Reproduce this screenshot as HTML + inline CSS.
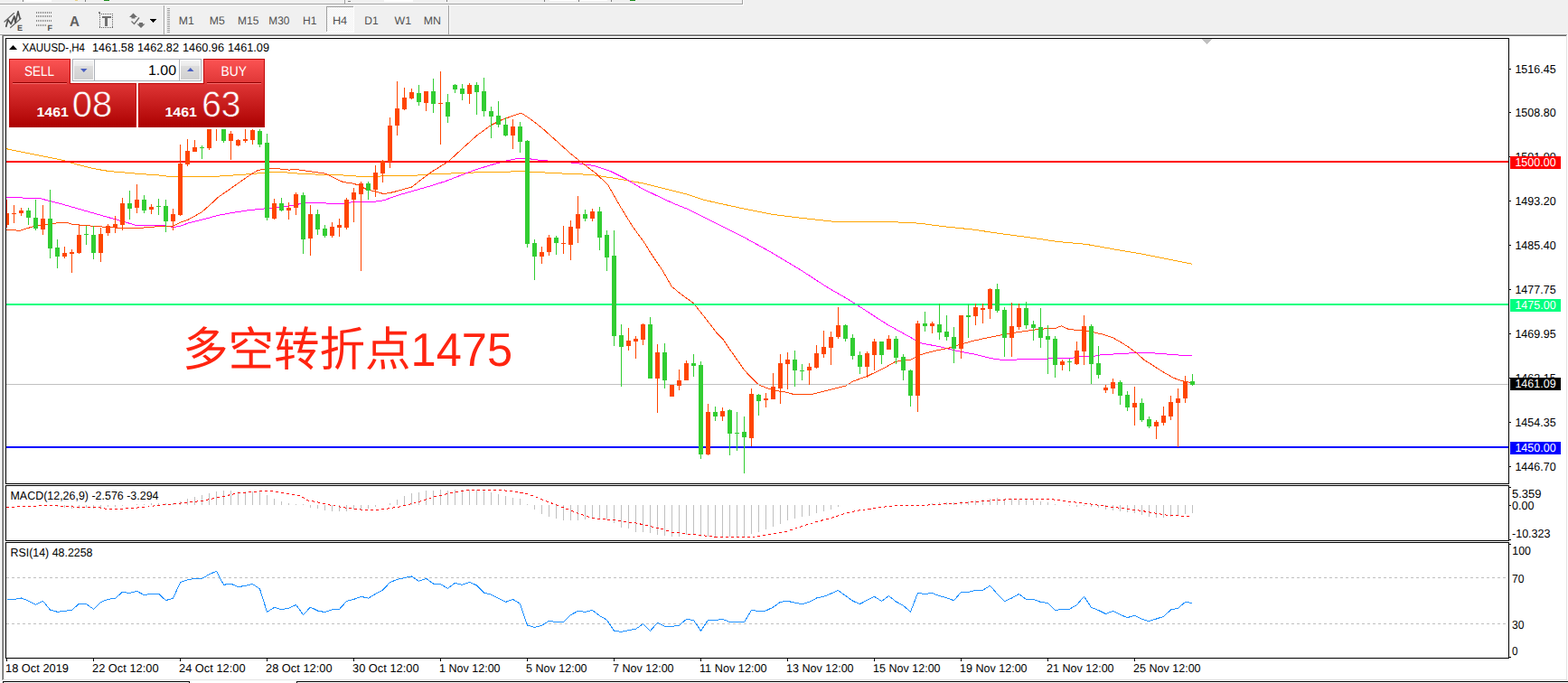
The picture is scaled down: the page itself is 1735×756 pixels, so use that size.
<!DOCTYPE html>
<html><head><meta charset="utf-8"><title>XAUUSD H4</title>
<style>
html,body{margin:0;padding:0;background:#f0f0f0;overflow:hidden}
body{width:1735px;height:756px;position:relative}
svg{position:absolute;left:0;top:0;display:block;font-family:"Liberation Sans",sans-serif;shape-rendering:crispEdges}
text{text-rendering:geometricPrecision;white-space:pre}
</style></head><body>
<svg width="1735" height="756" viewBox="0 0 1735 756">
<rect x="0" y="0" width="1735" height="756" fill="#f0f0f0" />
<rect x="0" y="4" width="822" height="1" fill="#a0a0a0" />
<rect x="0" y="5" width="823" height="1" fill="#ffffff" />
<rect x="821" y="0" width="1" height="5" fill="#a0a0a0" />
<rect x="822" y="0" width="1" height="6" fill="#ffffff" />
<rect x="25" y="0" width="32" height="2" fill="#ffffff" />
<rect x="25" y="0" width="1" height="2" fill="#808080" />
<rect x="94" y="0" width="1" height="2" fill="#808080" />
<rect x="115" y="0" width="6" height="1" fill="#1a8a1a" />
<rect x="83" y="0" width="3" height="1" fill="#e8d080" />
<rect x="381" y="0" width="1" height="4" fill="#a0a0a0" />
<rect x="385" y="1" width="3" height="1" fill="#808080" />
<rect x="425" y="0" width="32" height="2" fill="#ffffff" />
<rect x="494" y="0" width="1" height="2" fill="#808080" />
<rect x="602" y="0" width="1" height="2" fill="#808080" />
<rect x="608" y="0" width="30" height="1" fill="#ffffff" />
<rect x="640" y="0" width="1" height="2" fill="#808080" />
<rect x="642" y="0" width="30" height="1" fill="#ffffff" />
<rect x="676" y="0" width="1" height="2" fill="#808080" />
<rect x="697" y="0" width="6" height="1" fill="#1a8a1a" />
<rect x="0" y="37" width="1735" height="1" fill="#f8f8f8" />
<rect x="0" y="38" width="1734" height="1" fill="#a0a0a0" />
<rect x="3" y="39" width="1730" height="1" fill="#696969" />
<rect x="1" y="39" width="1" height="714" fill="#ffffff" />
<rect x="2" y="38" width="1" height="715" fill="#a0a0a0" />
<rect x="3" y="39" width="1" height="713" fill="#696969" />
<rect x="4" y="40" width="1729" height="712" fill="#ffffff" />
<rect x="1733" y="39" width="1" height="714" fill="#e3e3e3" />
<rect x="1734" y="38" width="1" height="716" fill="#ffffff" />
<rect x="3" y="752" width="1731" height="1" fill="#e3e3e3" />
<rect x="2" y="753" width="1733" height="1" fill="#ffffff" />
<rect x="0" y="754" width="1735" height="2" fill="#ffffff" />
<rect x="3" y="754" width="207" height="1" fill="#000" />
<rect x="3" y="754" width="1" height="2" fill="#000" />
<rect x="209" y="754" width="1" height="2" fill="#000" />
<rect x="328" y="754" width="1407" height="1" fill="#000" />
<rect x="328" y="754" width="1" height="2" fill="#000" />
<rect x="181" y="6" width="1" height="32" fill="#a0a0a0" />
<rect x="182" y="6" width="1" height="32" fill="#ffffff" />
<rect x="185" y="9" width="3" height="1" fill="#a0a0a0" />
<rect x="185" y="11" width="3" height="1" fill="#a0a0a0" />
<rect x="185" y="13" width="3" height="1" fill="#a0a0a0" />
<rect x="185" y="15" width="3" height="1" fill="#a0a0a0" />
<rect x="185" y="17" width="3" height="1" fill="#a0a0a0" />
<rect x="185" y="19" width="3" height="1" fill="#a0a0a0" />
<rect x="185" y="21" width="3" height="1" fill="#a0a0a0" />
<rect x="185" y="23" width="3" height="1" fill="#a0a0a0" />
<rect x="185" y="25" width="3" height="1" fill="#a0a0a0" />
<rect x="185" y="27" width="3" height="1" fill="#a0a0a0" />
<rect x="185" y="29" width="3" height="1" fill="#a0a0a0" />
<rect x="185" y="31" width="3" height="1" fill="#a0a0a0" />
<rect x="185" y="33" width="3" height="1" fill="#a0a0a0" />
<rect x="185" y="35" width="3" height="1" fill="#a0a0a0" />
<rect x="496" y="6" width="1" height="32" fill="#a0a0a0" />
<rect x="497" y="6" width="1" height="32" fill="#ffffff" />
<pattern id="ck" width="2" height="2" patternUnits="userSpaceOnUse"><rect width="2" height="2" fill="#f0f0f0"/><rect width="1" height="1" fill="#fff"/><rect x="1" y="1" width="1" height="1" fill="#fff"/></pattern>
<rect x="361" y="7" width="31" height="29" fill="url(#ck)" />
<rect x="361" y="7" width="31" height="1" fill="#a0a0a0" />
<rect x="361" y="7" width="1" height="29" fill="#a0a0a0" />
<rect x="361" y="35" width="31" height="1" fill="#ffffff" />
<rect x="391" y="7" width="1" height="29" fill="#ffffff" />
<text x="197.8" y="27" font-size="12.5" fill="#505050" textLength="17" lengthAdjust="spacingAndGlyphs" >M1</text>
<text x="231.7" y="27" font-size="12.5" fill="#505050" textLength="17" lengthAdjust="spacingAndGlyphs" >M5</text>
<text x="263.1" y="27" font-size="12.5" fill="#505050" textLength="23.3" lengthAdjust="spacingAndGlyphs" >M15</text>
<text x="297.3" y="27" font-size="12.5" fill="#505050" textLength="23" lengthAdjust="spacingAndGlyphs" >M30</text>
<text x="335.1" y="27" font-size="12.5" fill="#505050" textLength="15.4" lengthAdjust="spacingAndGlyphs" >H1</text>
<text x="367.9" y="27" font-size="12.5" fill="#505050" textLength="16.3" lengthAdjust="spacingAndGlyphs" >H4</text>
<text x="403.2" y="27" font-size="12.5" fill="#505050" textLength="15.4" lengthAdjust="spacingAndGlyphs" >D1</text>
<text x="436.5" y="27" font-size="12.5" fill="#505050" textLength="18.5" lengthAdjust="spacingAndGlyphs" >W1</text>
<text x="468.7" y="27" font-size="12.5" fill="#505050" textLength="19.2" lengthAdjust="spacingAndGlyphs" >MN</text>
<g fill="none" shape-rendering="geometricPrecision" stroke-linecap="round" stroke-linejoin="round">
<path d="M5,24 L15.5,14.6 M11.6,30.6 L23,20.4" stroke="#6a6a6a" stroke-width="1.3"/>
<path d="M6.8,29.3 L8.8,21.8 L12.2,26.6 L15.8,18 L17,25 L20,12.6 L22,20.4" stroke="#505050" stroke-width="1.7"/>
</g>
<text x="19" y="34" font-size="9" fill="#505050" font-weight="bold" >E</text>
<rect x="40" y="13" width="1" height="2" fill="#8c8c8c" />
<rect x="42" y="13" width="1" height="2" fill="#8c8c8c" />
<rect x="44" y="13" width="1" height="2" fill="#8c8c8c" />
<rect x="46" y="13" width="1" height="2" fill="#8c8c8c" />
<rect x="48" y="13" width="1" height="2" fill="#8c8c8c" />
<rect x="50" y="13" width="1" height="2" fill="#8c8c8c" />
<rect x="52" y="13" width="1" height="2" fill="#8c8c8c" />
<rect x="54" y="13" width="1" height="2" fill="#8c8c8c" />
<rect x="56" y="13" width="1" height="2" fill="#8c8c8c" />
<rect x="40" y="17" width="1" height="2" fill="#8c8c8c" />
<rect x="42" y="17" width="1" height="2" fill="#8c8c8c" />
<rect x="44" y="17" width="1" height="2" fill="#8c8c8c" />
<rect x="46" y="17" width="1" height="2" fill="#8c8c8c" />
<rect x="48" y="17" width="1" height="2" fill="#8c8c8c" />
<rect x="50" y="17" width="1" height="2" fill="#8c8c8c" />
<rect x="52" y="17" width="1" height="2" fill="#8c8c8c" />
<rect x="54" y="17" width="1" height="2" fill="#8c8c8c" />
<rect x="56" y="17" width="1" height="2" fill="#8c8c8c" />
<rect x="40" y="22" width="1" height="2" fill="#8c8c8c" />
<rect x="42" y="22" width="1" height="2" fill="#8c8c8c" />
<rect x="44" y="22" width="1" height="2" fill="#8c8c8c" />
<rect x="46" y="22" width="1" height="2" fill="#8c8c8c" />
<rect x="48" y="22" width="1" height="2" fill="#8c8c8c" />
<rect x="50" y="22" width="1" height="2" fill="#8c8c8c" />
<rect x="52" y="22" width="1" height="2" fill="#8c8c8c" />
<rect x="54" y="22" width="1" height="2" fill="#8c8c8c" />
<rect x="56" y="22" width="1" height="2" fill="#8c8c8c" />
<rect x="40" y="27" width="1" height="2" fill="#8c8c8c" />
<rect x="42" y="27" width="1" height="2" fill="#8c8c8c" />
<rect x="44" y="27" width="1" height="2" fill="#8c8c8c" />
<rect x="46" y="27" width="1" height="2" fill="#8c8c8c" />
<rect x="48" y="27" width="1" height="2" fill="#8c8c8c" />
<rect x="50" y="27" width="1" height="2" fill="#8c8c8c" />
<text x="52.5" y="34" font-size="9" fill="#505050" font-weight="bold" >F</text>
<text x="77" y="28.5" font-size="16" fill="#606060" textLength="11" lengthAdjust="spacingAndGlyphs" font-weight="bold" >A</text>
<rect x="110" y="15" width="1" height="1" fill="#606060" />
<rect x="110" y="30" width="1" height="1" fill="#606060" />
<rect x="112" y="15" width="1" height="1" fill="#606060" />
<rect x="112" y="30" width="1" height="1" fill="#606060" />
<rect x="114" y="15" width="1" height="1" fill="#606060" />
<rect x="114" y="30" width="1" height="1" fill="#606060" />
<rect x="116" y="15" width="1" height="1" fill="#606060" />
<rect x="116" y="30" width="1" height="1" fill="#606060" />
<rect x="118" y="15" width="1" height="1" fill="#606060" />
<rect x="118" y="30" width="1" height="1" fill="#606060" />
<rect x="120" y="15" width="1" height="1" fill="#606060" />
<rect x="120" y="30" width="1" height="1" fill="#606060" />
<rect x="122" y="15" width="1" height="1" fill="#606060" />
<rect x="122" y="30" width="1" height="1" fill="#606060" />
<rect x="124" y="15" width="1" height="1" fill="#606060" />
<rect x="124" y="30" width="1" height="1" fill="#606060" />
<rect x="110" y="17" width="1" height="1" fill="#606060" />
<rect x="124" y="17" width="1" height="1" fill="#606060" />
<rect x="110" y="19" width="1" height="1" fill="#606060" />
<rect x="124" y="19" width="1" height="1" fill="#606060" />
<rect x="110" y="21" width="1" height="1" fill="#606060" />
<rect x="124" y="21" width="1" height="1" fill="#606060" />
<rect x="110" y="23" width="1" height="1" fill="#606060" />
<rect x="124" y="23" width="1" height="1" fill="#606060" />
<rect x="110" y="25" width="1" height="1" fill="#606060" />
<rect x="124" y="25" width="1" height="1" fill="#606060" />
<rect x="110" y="27" width="1" height="1" fill="#606060" />
<rect x="124" y="27" width="1" height="1" fill="#606060" />
<rect x="110" y="29" width="1" height="1" fill="#606060" />
<rect x="124" y="29" width="1" height="1" fill="#606060" />
<rect x="109" y="13" width="2" height="2" fill="#808080" />
<rect x="113" y="18" width="10" height="2" fill="#707070" />
<rect x="116" y="20" width="3" height="9" fill="#707070" />
<g fill="#6e6e6e" shape-rendering="geometricPrecision"><path d="M147.5,14.5 L152,19 L149.5,19 L149.5,20.5 L145.5,20.5 L145.5,19 L143,19 Z"/><path d="M156,31 L160.5,26.5 L158,26.5 L158,25 L154,25 L154,26.5 L151.5,26.5 Z"/><path d="M145.5,23.5 L148.5,26.5 L154,19.5" fill="none" stroke="#6e6e6e" stroke-width="1.3"/></g>
<path d="M166,21 L173.5,21 L169.75,25 Z" fill="#000"/>
<rect x="6" y="42" width="1664" height="1" fill="#000" />
<rect x="6" y="535" width="1664" height="1" fill="#000" />
<rect x="6" y="42" width="1" height="494" fill="#000" />
<rect x="1669" y="42" width="1" height="494" fill="#000" />
<rect x="6" y="537" width="1664" height="1" fill="#000" />
<rect x="6" y="598" width="1664" height="1" fill="#000" />
<rect x="6" y="537" width="1" height="62" fill="#000" />
<rect x="1669" y="537" width="1" height="62" fill="#000" />
<rect x="6" y="600" width="1664" height="1" fill="#000" />
<rect x="6" y="728" width="1664" height="1" fill="#000" />
<rect x="6" y="600" width="1" height="129" fill="#000" />
<rect x="1669" y="600" width="1" height="129" fill="#000" />
<defs><clipPath id="cm"><rect x="7" y="43" width="1662" height="492"/></clipPath><clipPath id="c2"><rect x="7" y="538" width="1662" height="60"/></clipPath><clipPath id="c3"><rect x="7" y="601" width="1662" height="127"/></clipPath>
<linearGradient id="gs" x1="0" y1="0" x2="0" y2="1"><stop offset="0" stop-color="#fc5555"/><stop offset="1" stop-color="#e63a3a"/></linearGradient>
<linearGradient id="gb" x1="0" y1="0" x2="0" y2="1"><stop offset="0" stop-color="#e23333"/><stop offset="0.5" stop-color="#c81818"/><stop offset="1" stop-color="#ae0000"/></linearGradient>
<linearGradient id="gbtn" x1="0" y1="0" x2="0" y2="1"><stop offset="0" stop-color="#f3f3f3"/><stop offset="0.3" stop-color="#e9e9e9"/><stop offset="0.31" stop-color="#dcdcdc"/><stop offset="1" stop-color="#d0d0d0"/></linearGradient>
<linearGradient id="gp" gradientUnits="userSpaceOnUse" x1="0" y1="65" x2="0" y2="141"><stop offset="0" stop-color="#fc5454"/><stop offset="1" stop-color="#ac0000"/></linearGradient>
</defs>
<g clip-path="url(#cm)">
<polyline points="7.0,164.7 34.6,170.3 69.2,177.2 86.5,182.4 103.8,186.7 121.0,189.6 138.3,191.0 155.6,192.7 172.9,193.6 190.2,195.7 233.4,195.7 250.7,194.5 276.7,192.7 290.0,191.4 310.0,190.3 330.0,192.1 355.0,193.3 390.0,194.3 397.0,195.6 412.0,195.6 424.0,194.8 458.8,194.3 476.0,192.7 510.0,191.7 527.6,190.8 562.0,190.2 579.0,189.2 589.5,190.5 600.0,190.7 607.2,191.5 641.6,192.7 658.8,194.1 676.0,196.7 693.2,199.6 710.4,202.7 727.6,207.0 744.8,211.3 762.0,215.6 779.2,221.3 790.0,223.8 821.7,230.8 853.4,237.1 885.1,241.2 923.1,245.3 980.2,245.3 1018.2,247.2 1043.6,250.7 1075.3,253.9 1107.0,258.6 1138.7,262.8 1170.4,267.5 1202.1,270.4 1233.8,276.1 1265.5,281.5 1297.2,287.8 1318.8,292.2" fill="none" stroke="#ffa500" stroke-width="1" />
<polyline points="7.0,218.7 43.0,219.3 69.0,226.1 103.8,236.0 131.4,243.8 150.4,249.3 181.6,249.8 192.0,251.5 199.0,250.5 207.5,247.2 224.8,242.9 242.0,238.2 259.4,235.1 276.7,232.5 294.0,230.8 300.0,231.0 320.0,227.9 340.0,224.3 355.0,224.3 365.0,225.5 380.0,225.5 390.0,223.7 410.6,223.7 424.4,221.8 441.6,215.8 458.8,210.8 476.0,206.0 493.2,200.5 510.4,193.9 527.6,187.4 544.8,182.2 562.0,177.6 572.0,175.6 582.6,175.3 589.5,176.3 600.0,177.6 636.4,180.3 658.8,183.8 676.0,189.8 693.2,198.4 710.4,208.7 727.6,217.0 744.8,225.0 762.0,231.9 779.2,240.5 790.0,246.0 821.7,261.8 853.4,279.3 885.1,298.3 916.8,318.9 936.2,330.0 947.4,336.9 964.6,348.1 981.8,359.2 999.0,368.7 1012.8,376.4 1019.6,379.9 1042.0,384.2 1059.2,388.5 1077.2,391.9 1094.4,396.2 1108.2,398.4 1121.9,398.4 1128.8,397.5 1156.3,397.5 1163.2,396.5 1187.3,396.2 1194.2,394.4 1211.4,394.1 1220.0,392.4 1235.4,391.9 1251.6,390.8 1275.7,390.8 1292.9,392.2 1310.0,393.4 1318.7,393.4" fill="none" stroke="#ff00ff" stroke-width="1" />
<polyline points="7.0,254.2 22.5,255.3 34.6,251.3 57.0,247.6 69.0,246.2 75.0,246.5 79.5,248.3 96.8,249.8 131.4,252.3 155.6,252.3 173.0,250.8 192.0,250.0 199.0,246.3 207.5,243.5 223.0,235.0 235.0,224.3 242.0,217.8 250.0,212.4 259.4,205.7 276.7,193.6 285.3,188.5 295.0,186.9 310.0,187.0 320.0,188.1 327.0,187.4 340.0,189.3 360.0,192.1 367.0,195.7 380.0,201.7 390.0,202.9 397.0,205.1 407.0,210.3 416.0,212.0 424.4,214.6 434.7,212.8 446.8,209.4 455.4,207.2 465.7,199.1 476.0,191.3 496.6,178.4 510.4,165.5 527.6,150.0 543.0,138.8 555.0,132.8 568.9,127.6 575.4,125.4 579.0,126.4 589.5,133.6 600.0,141.9 631.3,170.0 641.6,178.3 658.8,191.5 672.6,204.4 686.3,228.5 700.0,250.8 713.8,269.8 719.9,280.0 732.8,298.9 743.1,317.0 753.4,325.6 767.2,335.4 779.2,350.5 794.3,370.0 800.0,375.5 807.0,385.9 824.0,410.2 838.8,425.5 849.3,429.9 864.2,433.5 870.0,434.1 878.6,436.6 897.5,436.6 914.7,432.3 935.4,427.2 944.0,422.0 959.4,416.5 976.6,408.3 990.4,400.5 1000.7,398.3 1007.6,398.3 1017.9,392.8 1031.7,389.0 1050.6,385.0 1064.4,380.7 1077.2,377.2 1094.4,373.5 1111.6,370.0 1128.8,367.3 1146.0,364.9 1159.8,363.5 1168.4,363.1 1174.4,360.9 1182.1,364.3 1189.0,365.2 1197.6,365.5 1209.6,367.8 1221.7,370.4 1232.0,374.1 1240.6,379.0 1249.2,384.5 1257.8,391.0 1266.4,398.7 1270.0,400.8 1286.0,411.1 1298.0,418.0 1306.6,421.4 1318.7,423.7" fill="none" stroke="#ff4500" stroke-width="1" />
<rect x="7" y="425" width="1662" height="1" fill="#c0c0c0" />
<rect x="7" y="178" width="1662" height="2" fill="#ff0000" />
<rect x="7" y="336" width="1662" height="2" fill="#00ff7f" />
<rect x="7" y="494" width="1662" height="2" fill="#0000ff" />
<rect x="7" y="221" width="1" height="31" fill="#ff4500" />
<rect x="5" y="236" width="5" height="13" fill="#ff4500" />
<rect x="15" y="227" width="1" height="20" fill="#ff4500" />
<rect x="13" y="236" width="5" height="1" fill="#ff4500" />
<rect x="23" y="230" width="1" height="9" fill="#ff4500" />
<rect x="21" y="233" width="5" height="3" fill="#ff4500" />
<rect x="31" y="230" width="1" height="19" fill="#32cd32" />
<rect x="29" y="233" width="5" height="8" fill="#32cd32" />
<rect x="39" y="221" width="1" height="34" fill="#32cd32" />
<rect x="37" y="241" width="5" height="12" fill="#32cd32" />
<rect x="47" y="227" width="1" height="33" fill="#ff4500" />
<rect x="45" y="242" width="5" height="12" fill="#ff4500" />
<rect x="55" y="210" width="1" height="76" fill="#32cd32" />
<rect x="53" y="242" width="5" height="33" fill="#32cd32" />
<rect x="63" y="265" width="1" height="32" fill="#32cd32" />
<rect x="61" y="274" width="5" height="10" fill="#32cd32" />
<rect x="71" y="273" width="1" height="13" fill="#ff4500" />
<rect x="69" y="280" width="5" height="4" fill="#ff4500" />
<rect x="79" y="276" width="1" height="26" fill="#ff4500" />
<rect x="77" y="279" width="5" height="2" fill="#ff4500" />
<rect x="87" y="249" width="1" height="32" fill="#ff4500" />
<rect x="85" y="260" width="5" height="20" fill="#ff4500" />
<rect x="95" y="250" width="1" height="21" fill="#32cd32" />
<rect x="93" y="259" width="5" height="1" fill="#32cd32" />
<rect x="103" y="250" width="1" height="37" fill="#32cd32" />
<rect x="101" y="260" width="5" height="20" fill="#32cd32" />
<rect x="111" y="252" width="1" height="38" fill="#ff4500" />
<rect x="109" y="259" width="5" height="21" fill="#ff4500" />
<rect x="119" y="248" width="1" height="13" fill="#ff4500" />
<rect x="117" y="250" width="5" height="8" fill="#ff4500" />
<rect x="127" y="239" width="1" height="19" fill="#ff4500" />
<rect x="125" y="248" width="5" height="4" fill="#ff4500" />
<rect x="135" y="219" width="1" height="36" fill="#ff4500" />
<rect x="133" y="225" width="5" height="24" fill="#ff4500" />
<rect x="143" y="211" width="1" height="32" fill="#32cd32" />
<rect x="141" y="225" width="5" height="6" fill="#32cd32" />
<rect x="151" y="204" width="1" height="32" fill="#ff4500" />
<rect x="149" y="221" width="5" height="9" fill="#ff4500" />
<rect x="159" y="216" width="1" height="20" fill="#32cd32" />
<rect x="157" y="221" width="5" height="12" fill="#32cd32" />
<rect x="167" y="226" width="1" height="11" fill="#ff4500" />
<rect x="165" y="229" width="5" height="3" fill="#ff4500" />
<rect x="175" y="220" width="1" height="18" fill="#32cd32" />
<rect x="173" y="228" width="5" height="1" fill="#32cd32" />
<rect x="183" y="221" width="1" height="36" fill="#32cd32" />
<rect x="181" y="228" width="5" height="17" fill="#32cd32" />
<rect x="191" y="231" width="1" height="24" fill="#ff4500" />
<rect x="189" y="237" width="5" height="8" fill="#ff4500" />
<rect x="199" y="160" width="1" height="79" fill="#ff4500" />
<rect x="197" y="181" width="5" height="57" fill="#ff4500" />
<rect x="207" y="154" width="1" height="30" fill="#ff4500" />
<rect x="205" y="167" width="5" height="15" fill="#ff4500" />
<rect x="215" y="155" width="1" height="13" fill="#ff4500" />
<rect x="213" y="163" width="5" height="5" fill="#ff4500" />
<rect x="223" y="161" width="1" height="15" fill="#32cd32" />
<rect x="221" y="163" width="5" height="1" fill="#32cd32" />
<rect x="231" y="100" width="1" height="66" fill="#ff4500" />
<rect x="229" y="100" width="5" height="64" fill="#ff4500" />
<rect x="239" y="100" width="1" height="56" fill="#ff4500" />
<rect x="247" y="100" width="1" height="58" fill="#32cd32" />
<rect x="245" y="100" width="5" height="56" fill="#32cd32" />
<rect x="255" y="145" width="1" height="32" fill="#ff4500" />
<rect x="253" y="148" width="5" height="8" fill="#ff4500" />
<rect x="263" y="154" width="1" height="8" fill="#ff4500" />
<rect x="261" y="155" width="5" height="6" fill="#ff4500" />
<rect x="271" y="100" width="1" height="58" fill="#ff4500" />
<rect x="269" y="154" width="5" height="2" fill="#ff4500" />
<rect x="279" y="100" width="1" height="60" fill="#ff4500" />
<rect x="277" y="144" width="5" height="11" fill="#ff4500" />
<rect x="287" y="100" width="1" height="63" fill="#32cd32" />
<rect x="285" y="145" width="5" height="15" fill="#32cd32" />
<rect x="295" y="148" width="1" height="96" fill="#32cd32" />
<rect x="293" y="158" width="5" height="83" fill="#32cd32" />
<rect x="303" y="220" width="1" height="23" fill="#ff4500" />
<rect x="301" y="225" width="5" height="17" fill="#ff4500" />
<rect x="311" y="219" width="1" height="15" fill="#32cd32" />
<rect x="309" y="225" width="5" height="8" fill="#32cd32" />
<rect x="319" y="224" width="1" height="19" fill="#ff4500" />
<rect x="317" y="230" width="5" height="3" fill="#ff4500" />
<rect x="327" y="213" width="1" height="25" fill="#ff4500" />
<rect x="325" y="215" width="5" height="15" fill="#ff4500" />
<rect x="335" y="213" width="1" height="68" fill="#32cd32" />
<rect x="333" y="216" width="5" height="49" fill="#32cd32" />
<rect x="343" y="227" width="1" height="56" fill="#ff4500" />
<rect x="341" y="237" width="5" height="27" fill="#ff4500" />
<rect x="351" y="232" width="1" height="28" fill="#32cd32" />
<rect x="349" y="237" width="5" height="17" fill="#32cd32" />
<rect x="359" y="249" width="1" height="14" fill="#32cd32" />
<rect x="357" y="253" width="5" height="8" fill="#32cd32" />
<rect x="367" y="246" width="1" height="17" fill="#ff4500" />
<rect x="365" y="251" width="5" height="10" fill="#ff4500" />
<rect x="375" y="242" width="1" height="20" fill="#ff4500" />
<rect x="373" y="249" width="5" height="3" fill="#ff4500" />
<rect x="383" y="219" width="1" height="35" fill="#ff4500" />
<rect x="381" y="221" width="5" height="31" fill="#ff4500" />
<rect x="391" y="208" width="1" height="38" fill="#ff4500" />
<rect x="389" y="213" width="5" height="8" fill="#ff4500" />
<rect x="399" y="201" width="1" height="99" fill="#ff4500" />
<rect x="397" y="203" width="5" height="12" fill="#ff4500" />
<rect x="407" y="201" width="1" height="20" fill="#32cd32" />
<rect x="405" y="203" width="5" height="8" fill="#32cd32" />
<rect x="415" y="183" width="1" height="35" fill="#ff4500" />
<rect x="413" y="191" width="5" height="19" fill="#ff4500" />
<rect x="423" y="177" width="1" height="25" fill="#ff4500" />
<rect x="421" y="178" width="5" height="14" fill="#ff4500" />
<rect x="431" y="130" width="1" height="56" fill="#ff4500" />
<rect x="429" y="139" width="5" height="40" fill="#ff4500" />
<rect x="439" y="90" width="1" height="60" fill="#ff4500" />
<rect x="437" y="120" width="5" height="19" fill="#ff4500" />
<rect x="447" y="97" width="1" height="25" fill="#ff4500" />
<rect x="445" y="108" width="5" height="13" fill="#ff4500" />
<rect x="455" y="98" width="1" height="12" fill="#ff4500" />
<rect x="453" y="102" width="5" height="7" fill="#ff4500" />
<rect x="463" y="94" width="1" height="23" fill="#32cd32" />
<rect x="461" y="103" width="5" height="10" fill="#32cd32" />
<rect x="471" y="101" width="1" height="22" fill="#ff4500" />
<rect x="469" y="101" width="5" height="13" fill="#ff4500" />
<rect x="479" y="87" width="1" height="38" fill="#32cd32" />
<rect x="477" y="101" width="5" height="14" fill="#32cd32" />
<rect x="487" y="79" width="1" height="81" fill="#ff4500" />
<rect x="485" y="114" width="5" height="1" fill="#ff4500" />
<rect x="495" y="104" width="1" height="32" fill="#32cd32" />
<rect x="493" y="113" width="5" height="16" fill="#32cd32" />
<rect x="503" y="93" width="1" height="10" fill="#32cd32" />
<rect x="501" y="94" width="5" height="5" fill="#32cd32" />
<rect x="511" y="93" width="1" height="18" fill="#32cd32" />
<rect x="509" y="98" width="5" height="6" fill="#32cd32" />
<rect x="519" y="92" width="1" height="23" fill="#ff4500" />
<rect x="517" y="94" width="5" height="10" fill="#ff4500" />
<rect x="527" y="91" width="1" height="36" fill="#32cd32" />
<rect x="525" y="94" width="5" height="8" fill="#32cd32" />
<rect x="535" y="86" width="1" height="43" fill="#32cd32" />
<rect x="533" y="101" width="5" height="22" fill="#32cd32" />
<rect x="543" y="118" width="1" height="35" fill="#32cd32" />
<rect x="541" y="123" width="5" height="6" fill="#32cd32" />
<rect x="551" y="112" width="1" height="29" fill="#32cd32" />
<rect x="549" y="128" width="5" height="10" fill="#32cd32" />
<rect x="559" y="130" width="1" height="21" fill="#32cd32" />
<rect x="557" y="138" width="5" height="12" fill="#32cd32" />
<rect x="567" y="132" width="1" height="33" fill="#ff4500" />
<rect x="565" y="140" width="5" height="10" fill="#ff4500" />
<rect x="575" y="135" width="1" height="34" fill="#32cd32" />
<rect x="573" y="140" width="5" height="17" fill="#32cd32" />
<rect x="583" y="155" width="1" height="119" fill="#32cd32" />
<rect x="581" y="156" width="5" height="114" fill="#32cd32" />
<rect x="591" y="265" width="1" height="45" fill="#32cd32" />
<rect x="589" y="269" width="5" height="15" fill="#32cd32" />
<rect x="599" y="273" width="1" height="19" fill="#ff4500" />
<rect x="597" y="279" width="5" height="5" fill="#ff4500" />
<rect x="607" y="260" width="1" height="23" fill="#ff4500" />
<rect x="605" y="263" width="5" height="16" fill="#ff4500" />
<rect x="615" y="261" width="1" height="21" fill="#32cd32" />
<rect x="613" y="263" width="5" height="6" fill="#32cd32" />
<rect x="623" y="250" width="1" height="31" fill="#ff4500" />
<rect x="621" y="269" width="5" height="1" fill="#ff4500" />
<rect x="631" y="244" width="1" height="44" fill="#ff4500" />
<rect x="629" y="251" width="5" height="20" fill="#ff4500" />
<rect x="639" y="217" width="1" height="52" fill="#ff4500" />
<rect x="637" y="237" width="5" height="16" fill="#ff4500" />
<rect x="647" y="232" width="1" height="13" fill="#32cd32" />
<rect x="645" y="237" width="5" height="5" fill="#32cd32" />
<rect x="655" y="231" width="1" height="14" fill="#ff4500" />
<rect x="653" y="234" width="5" height="8" fill="#ff4500" />
<rect x="663" y="229" width="1" height="48" fill="#32cd32" />
<rect x="661" y="234" width="5" height="29" fill="#32cd32" />
<rect x="671" y="255" width="1" height="45" fill="#32cd32" />
<rect x="669" y="260" width="5" height="25" fill="#32cd32" />
<rect x="679" y="255" width="1" height="128" fill="#32cd32" />
<rect x="677" y="283" width="5" height="89" fill="#32cd32" />
<rect x="687" y="359" width="1" height="69" fill="#32cd32" />
<rect x="685" y="371" width="5" height="13" fill="#32cd32" />
<rect x="695" y="363" width="1" height="25" fill="#ff4500" />
<rect x="693" y="377" width="5" height="6" fill="#ff4500" />
<rect x="703" y="372" width="1" height="25" fill="#ff4500" />
<rect x="701" y="375" width="5" height="3" fill="#ff4500" />
<rect x="711" y="358" width="1" height="24" fill="#ff4500" />
<rect x="709" y="359" width="5" height="17" fill="#ff4500" />
<rect x="719" y="351" width="1" height="68" fill="#32cd32" />
<rect x="717" y="359" width="5" height="60" fill="#32cd32" />
<rect x="727" y="381" width="1" height="76" fill="#ff4500" />
<rect x="725" y="390" width="5" height="29" fill="#ff4500" />
<rect x="735" y="380" width="1" height="50" fill="#32cd32" />
<rect x="733" y="390" width="5" height="31" fill="#32cd32" />
<rect x="743" y="426" width="1" height="13" fill="#ff4500" />
<rect x="741" y="426" width="5" height="13" fill="#ff4500" />
<rect x="751" y="409" width="1" height="23" fill="#ff4500" />
<rect x="749" y="421" width="5" height="6" fill="#ff4500" />
<rect x="759" y="399" width="1" height="22" fill="#ff4500" />
<rect x="757" y="402" width="5" height="19" fill="#ff4500" />
<rect x="767" y="392" width="1" height="25" fill="#32cd32" />
<rect x="765" y="402" width="5" height="3" fill="#32cd32" />
<rect x="775" y="400" width="1" height="108" fill="#32cd32" />
<rect x="773" y="404" width="5" height="99" fill="#32cd32" />
<rect x="783" y="447" width="1" height="57" fill="#ff4500" />
<rect x="781" y="456" width="5" height="47" fill="#ff4500" />
<rect x="791" y="450" width="1" height="16" fill="#32cd32" />
<rect x="789" y="456" width="5" height="5" fill="#32cd32" />
<rect x="799" y="451" width="1" height="15" fill="#ff4500" />
<rect x="797" y="455" width="5" height="6" fill="#ff4500" />
<rect x="807" y="453" width="1" height="51" fill="#32cd32" />
<rect x="805" y="454" width="5" height="26" fill="#32cd32" />
<rect x="815" y="456" width="1" height="43" fill="#32cd32" />
<rect x="813" y="479" width="5" height="1" fill="#32cd32" />
<rect x="823" y="461" width="1" height="63" fill="#32cd32" />
<rect x="821" y="478" width="5" height="6" fill="#32cd32" />
<rect x="831" y="430" width="1" height="64" fill="#ff4500" />
<rect x="829" y="436" width="5" height="49" fill="#ff4500" />
<rect x="839" y="436" width="1" height="24" fill="#32cd32" />
<rect x="837" y="437" width="5" height="7" fill="#32cd32" />
<rect x="847" y="435" width="1" height="16" fill="#ff4500" />
<rect x="845" y="441" width="5" height="2" fill="#ff4500" />
<rect x="855" y="413" width="1" height="29" fill="#ff4500" />
<rect x="853" y="428" width="5" height="14" fill="#ff4500" />
<rect x="863" y="392" width="1" height="55" fill="#ff4500" />
<rect x="861" y="402" width="5" height="28" fill="#ff4500" />
<rect x="871" y="390" width="1" height="41" fill="#ff4500" />
<rect x="869" y="398" width="5" height="5" fill="#ff4500" />
<rect x="879" y="388" width="1" height="40" fill="#32cd32" />
<rect x="877" y="398" width="5" height="12" fill="#32cd32" />
<rect x="887" y="403" width="1" height="18" fill="#32cd32" />
<rect x="885" y="410" width="5" height="1" fill="#32cd32" />
<rect x="895" y="402" width="1" height="24" fill="#ff4500" />
<rect x="893" y="406" width="5" height="4" fill="#ff4500" />
<rect x="903" y="382" width="1" height="26" fill="#ff4500" />
<rect x="901" y="391" width="5" height="16" fill="#ff4500" />
<rect x="911" y="366" width="1" height="30" fill="#ff4500" />
<rect x="909" y="384" width="5" height="8" fill="#ff4500" />
<rect x="919" y="367" width="1" height="37" fill="#ff4500" />
<rect x="917" y="373" width="5" height="12" fill="#ff4500" />
<rect x="927" y="340" width="1" height="35" fill="#ff4500" />
<rect x="925" y="360" width="5" height="13" fill="#ff4500" />
<rect x="935" y="359" width="1" height="19" fill="#32cd32" />
<rect x="933" y="360" width="5" height="15" fill="#32cd32" />
<rect x="943" y="370" width="1" height="28" fill="#32cd32" />
<rect x="941" y="374" width="5" height="20" fill="#32cd32" />
<rect x="951" y="389" width="1" height="25" fill="#32cd32" />
<rect x="949" y="393" width="5" height="13" fill="#32cd32" />
<rect x="959" y="389" width="1" height="29" fill="#ff4500" />
<rect x="957" y="391" width="5" height="15" fill="#ff4500" />
<rect x="967" y="375" width="1" height="35" fill="#ff4500" />
<rect x="965" y="378" width="5" height="15" fill="#ff4500" />
<rect x="975" y="378" width="1" height="25" fill="#32cd32" />
<rect x="973" y="378" width="5" height="15" fill="#32cd32" />
<rect x="983" y="371" width="1" height="16" fill="#ff4500" />
<rect x="981" y="375" width="5" height="12" fill="#ff4500" />
<rect x="991" y="372" width="1" height="31" fill="#32cd32" />
<rect x="989" y="375" width="5" height="21" fill="#32cd32" />
<rect x="999" y="392" width="1" height="29" fill="#32cd32" />
<rect x="997" y="395" width="5" height="15" fill="#32cd32" />
<rect x="1007" y="409" width="1" height="41" fill="#32cd32" />
<rect x="1005" y="410" width="5" height="28" fill="#32cd32" />
<rect x="1015" y="355" width="1" height="101" fill="#ff4500" />
<rect x="1013" y="358" width="5" height="80" fill="#ff4500" />
<rect x="1023" y="345" width="1" height="22" fill="#32cd32" />
<rect x="1021" y="358" width="5" height="3" fill="#32cd32" />
<rect x="1031" y="356" width="1" height="13" fill="#ff4500" />
<rect x="1029" y="358" width="5" height="3" fill="#ff4500" />
<rect x="1039" y="336" width="1" height="40" fill="#32cd32" />
<rect x="1037" y="359" width="5" height="9" fill="#32cd32" />
<rect x="1047" y="349" width="1" height="28" fill="#32cd32" />
<rect x="1045" y="367" width="5" height="6" fill="#32cd32" />
<rect x="1055" y="362" width="1" height="40" fill="#32cd32" />
<rect x="1053" y="373" width="5" height="13" fill="#32cd32" />
<rect x="1063" y="349" width="1" height="48" fill="#ff4500" />
<rect x="1061" y="349" width="5" height="37" fill="#ff4500" />
<rect x="1071" y="337" width="1" height="37" fill="#32cd32" />
<rect x="1069" y="349" width="5" height="2" fill="#32cd32" />
<rect x="1079" y="336" width="1" height="24" fill="#ff4500" />
<rect x="1077" y="340" width="5" height="10" fill="#ff4500" />
<rect x="1087" y="336" width="1" height="22" fill="#ff4500" />
<rect x="1085" y="341" width="5" height="2" fill="#ff4500" />
<rect x="1095" y="319" width="1" height="34" fill="#ff4500" />
<rect x="1093" y="320" width="5" height="22" fill="#ff4500" />
<rect x="1103" y="314" width="1" height="32" fill="#32cd32" />
<rect x="1101" y="320" width="5" height="24" fill="#32cd32" />
<rect x="1111" y="340" width="1" height="55" fill="#32cd32" />
<rect x="1109" y="343" width="5" height="31" fill="#32cd32" />
<rect x="1119" y="335" width="1" height="60" fill="#ff4500" />
<rect x="1117" y="361" width="5" height="13" fill="#ff4500" />
<rect x="1127" y="336" width="1" height="29" fill="#ff4500" />
<rect x="1125" y="341" width="5" height="21" fill="#ff4500" />
<rect x="1135" y="334" width="1" height="30" fill="#32cd32" />
<rect x="1133" y="341" width="5" height="19" fill="#32cd32" />
<rect x="1143" y="355" width="1" height="22" fill="#32cd32" />
<rect x="1141" y="359" width="5" height="4" fill="#32cd32" />
<rect x="1151" y="341" width="1" height="44" fill="#32cd32" />
<rect x="1149" y="362" width="5" height="12" fill="#32cd32" />
<rect x="1159" y="360" width="1" height="54" fill="#32cd32" />
<rect x="1157" y="372" width="5" height="4" fill="#32cd32" />
<rect x="1167" y="372" width="1" height="46" fill="#32cd32" />
<rect x="1165" y="375" width="5" height="29" fill="#32cd32" />
<rect x="1175" y="398" width="1" height="12" fill="#ff4500" />
<rect x="1173" y="400" width="5" height="4" fill="#ff4500" />
<rect x="1183" y="397" width="1" height="14" fill="#32cd32" />
<rect x="1181" y="400" width="5" height="1" fill="#32cd32" />
<rect x="1191" y="378" width="1" height="26" fill="#ff4500" />
<rect x="1189" y="388" width="5" height="15" fill="#ff4500" />
<rect x="1199" y="349" width="1" height="55" fill="#ff4500" />
<rect x="1197" y="361" width="5" height="28" fill="#ff4500" />
<rect x="1207" y="359" width="1" height="66" fill="#32cd32" />
<rect x="1205" y="361" width="5" height="42" fill="#32cd32" />
<rect x="1215" y="383" width="1" height="36" fill="#32cd32" />
<rect x="1213" y="402" width="5" height="13" fill="#32cd32" />
<rect x="1223" y="426" width="1" height="9" fill="#ff4500" />
<rect x="1221" y="429" width="5" height="3" fill="#ff4500" />
<rect x="1231" y="419" width="1" height="17" fill="#ff4500" />
<rect x="1229" y="423" width="5" height="7" fill="#ff4500" />
<rect x="1239" y="421" width="1" height="27" fill="#32cd32" />
<rect x="1237" y="423" width="5" height="15" fill="#32cd32" />
<rect x="1247" y="433" width="1" height="22" fill="#32cd32" />
<rect x="1245" y="437" width="5" height="14" fill="#32cd32" />
<rect x="1255" y="428" width="1" height="43" fill="#ff4500" />
<rect x="1253" y="446" width="5" height="5" fill="#ff4500" />
<rect x="1263" y="441" width="1" height="26" fill="#32cd32" />
<rect x="1261" y="446" width="5" height="19" fill="#32cd32" />
<rect x="1271" y="461" width="1" height="13" fill="#32cd32" />
<rect x="1269" y="464" width="5" height="8" fill="#32cd32" />
<rect x="1279" y="465" width="1" height="21" fill="#ff4500" />
<rect x="1277" y="467" width="5" height="5" fill="#ff4500" />
<rect x="1287" y="450" width="1" height="21" fill="#ff4500" />
<rect x="1285" y="460" width="5" height="8" fill="#ff4500" />
<rect x="1295" y="438" width="1" height="27" fill="#ff4500" />
<rect x="1293" y="445" width="5" height="16" fill="#ff4500" />
<rect x="1303" y="430" width="1" height="65" fill="#ff4500" />
<rect x="1301" y="441" width="5" height="5" fill="#ff4500" />
<rect x="1311" y="416" width="1" height="30" fill="#ff4500" />
<rect x="1309" y="422" width="5" height="19" fill="#ff4500" />
<rect x="1319" y="414" width="1" height="13" fill="#32cd32" />
<rect x="1317" y="422" width="5" height="4" fill="#32cd32" />
<path d="M1329,43 L1341,43 L1335,49 Z" fill="#c0c0c0"/>
</g>
<rect x="7" y="43" width="290" height="100" fill="#ffffff" />
<path d="M10,55 L19,55 L14.5,50 Z" fill="#000" shape-rendering="geometricPrecision"/>
<text x="24.5" y="57" font-size="13" fill="#000" textLength="69.5" lengthAdjust="spacingAndGlyphs" >XAUUSD-,H4</text>
<text x="102" y="57" font-size="13" fill="#000" textLength="46" lengthAdjust="spacingAndGlyphs" >1461.58</text>
<text x="152" y="57" font-size="13" fill="#000" textLength="46" lengthAdjust="spacingAndGlyphs" >1462.82</text>
<text x="202" y="57" font-size="13" fill="#000" textLength="46" lengthAdjust="spacingAndGlyphs" >1460.96</text>
<text x="252" y="57" font-size="13" fill="#000" textLength="46" lengthAdjust="spacingAndGlyphs" >1461.09</text>
<path d="M10,65 H78 V92 H151 V141 H10 Z" fill="url(#gp)"/>
<path d="M225,65 H293 V141 H153 V92 H225 Z" fill="url(#gp)"/>
<rect x="10" y="65" width="68" height="1" fill="#c00808" />
<rect x="10" y="65" width="1" height="76" fill="#c00808" />
<rect x="77" y="65" width="1" height="28" fill="#c00808" />
<rect x="77" y="92" width="74" height="1" fill="#c00808" />
<rect x="150" y="92" width="1" height="49" fill="#c41010" />
<rect x="225" y="65" width="68" height="1" fill="#c00808" />
<rect x="225" y="65" width="1" height="28" fill="#c00808" />
<rect x="292" y="65" width="1" height="76" fill="#c00808" />
<rect x="153" y="92" width="73" height="1" fill="#c00808" />
<rect x="153" y="92" width="1" height="49" fill="#c00808" />
<rect x="14" y="91" width="60" height="1" fill="#8e0000" />
<rect x="14" y="92" width="60" height="1" fill="#fa6c6c" />
<rect x="229" y="91" width="60" height="1" fill="#8e0000" />
<rect x="229" y="92" width="60" height="1" fill="#fa6c6c" />
<text x="27" y="84" font-size="15.4" fill="#fff" textLength="33" lengthAdjust="spacingAndGlyphs" >SELL</text>
<text x="244.5" y="84" font-size="15.4" fill="#fff" textLength="28.5" lengthAdjust="spacingAndGlyphs" >BUY</text>
<rect x="80" y="65" width="142" height="24" fill="#ffffff" stroke="#acb0b8" stroke-width="1" transform="translate(0.5,0.5)"/>
<rect x="82" y="67" width="21" height="21" fill="url(#gbtn)" />
<rect x="104" y="66" width="1" height="23" fill="#acb0b8" />
<rect x="200" y="67" width="21" height="21" fill="url(#gbtn)" />
<rect x="198" y="66" width="1" height="23" fill="#acb0b8" />
<path d="M89,76 L96.5,76 L92.75,80 Z" fill="#4a5fc0" shape-rendering="geometricPrecision"/>
<path d="M207,79 L214.5,79 L210.75,75 Z" fill="#4a5fc0" shape-rendering="geometricPrecision"/>
<text x="164" y="83" font-size="15.5" fill="#000" textLength="31" lengthAdjust="spacingAndGlyphs" >1.00</text>
<text x="40.5" y="129.3" font-size="14.5" fill="#fff" textLength="35.5" lengthAdjust="spacingAndGlyphs" font-weight="bold" >1461</text>
<text x="79.7" y="128.9" font-size="39.8" fill="#fff" textLength="44.4" lengthAdjust="spacingAndGlyphs" stroke="url(#gp)" stroke-width="0.55">08</text>
<text x="182.5" y="129.3" font-size="14.5" fill="#fff" textLength="35.5" lengthAdjust="spacingAndGlyphs" font-weight="bold" >1461</text>
<text x="223.2" y="128.9" font-size="39.8" fill="#fff" textLength="43.2" lengthAdjust="spacingAndGlyphs" stroke="url(#gp)" stroke-width="0.55">63</text>
<text x="202" y="405" font-size="52" fill="#ff2410" textLength="365" lengthAdjust="spacingAndGlyphs" style="font-family:'Liberation Sans','Noto Sans CJK SC',sans-serif">多空转折点1475</text>
<rect x="1670" y="76" width="2" height="1" fill="#000" />
<text x="1676.4" y="81" font-size="13" fill="#000" textLength="45.2" lengthAdjust="spacingAndGlyphs" >1516.45</text>
<rect x="1670" y="124" width="2" height="1" fill="#000" />
<text x="1676.4" y="129" font-size="13" fill="#000" textLength="45.2" lengthAdjust="spacingAndGlyphs" >1508.80</text>
<rect x="1670" y="173" width="2" height="1" fill="#000" />
<text x="1676.4" y="178" font-size="13" fill="#000" textLength="45.2" lengthAdjust="spacingAndGlyphs" >1501.00</text>
<rect x="1670" y="222" width="2" height="1" fill="#000" />
<text x="1676.4" y="227" font-size="13" fill="#000" textLength="45.2" lengthAdjust="spacingAndGlyphs" >1493.20</text>
<rect x="1670" y="271" width="2" height="1" fill="#000" />
<text x="1676.4" y="276" font-size="13" fill="#000" textLength="45.2" lengthAdjust="spacingAndGlyphs" >1485.40</text>
<rect x="1670" y="320" width="2" height="1" fill="#000" />
<text x="1676.4" y="325" font-size="13" fill="#000" textLength="45.2" lengthAdjust="spacingAndGlyphs" >1477.75</text>
<rect x="1670" y="369" width="2" height="1" fill="#000" />
<text x="1676.4" y="374" font-size="13" fill="#000" textLength="45.2" lengthAdjust="spacingAndGlyphs" >1469.95</text>
<rect x="1670" y="418" width="2" height="1" fill="#000" />
<text x="1676.4" y="423" font-size="13" fill="#000" textLength="45.2" lengthAdjust="spacingAndGlyphs" >1462.15</text>
<rect x="1670" y="467" width="2" height="1" fill="#000" />
<text x="1676.4" y="472" font-size="13" fill="#000" textLength="45.2" lengthAdjust="spacingAndGlyphs" >1454.35</text>
<rect x="1670" y="516" width="2" height="1" fill="#000" />
<text x="1676.4" y="521" font-size="13" fill="#000" textLength="45.2" lengthAdjust="spacingAndGlyphs" >1446.70</text>
<rect x="1671" y="173" width="56" height="14" fill="#ff0000" />
<text x="1676.4" y="184.3" font-size="13" fill="#fff" textLength="45.2" lengthAdjust="spacingAndGlyphs" >1500.00</text>
<rect x="1671" y="331" width="56" height="14" fill="#00ff7f" />
<text x="1676.4" y="342.3" font-size="13" fill="#fff" textLength="45.2" lengthAdjust="spacingAndGlyphs" >1475.00</text>
<rect x="1671" y="418" width="56" height="14" fill="#000000" />
<text x="1676.4" y="429.3" font-size="13" fill="#fff" textLength="45.2" lengthAdjust="spacingAndGlyphs" >1461.09</text>
<rect x="1671" y="489" width="56" height="14" fill="#0000ff" />
<text x="1676.4" y="500.3" font-size="13" fill="#fff" textLength="45.2" lengthAdjust="spacingAndGlyphs" >1450.00</text>
<g clip-path="url(#c2)">
<rect x="63" y="559" width="1" height="2" fill="#c0c0c0" />
<rect x="71" y="559" width="1" height="3" fill="#c0c0c0" />
<rect x="79" y="559" width="1" height="4" fill="#c0c0c0" />
<rect x="87" y="559" width="1" height="4" fill="#c0c0c0" />
<rect x="95" y="559" width="1" height="3" fill="#c0c0c0" />
<rect x="103" y="559" width="1" height="4" fill="#c0c0c0" />
<rect x="111" y="559" width="1" height="3" fill="#c0c0c0" />
<rect x="119" y="559" width="1" height="2" fill="#c0c0c0" />
<rect x="127" y="559" width="1" height="2" fill="#c0c0c0" />
<rect x="135" y="559" width="1" height="1" fill="#c0c0c0" />
<rect x="151" y="558" width="1" height="1" fill="#c0c0c0" />
<rect x="159" y="558" width="1" height="1" fill="#c0c0c0" />
<rect x="167" y="557" width="1" height="2" fill="#c0c0c0" />
<rect x="175" y="557" width="1" height="2" fill="#c0c0c0" />
<rect x="183" y="557" width="1" height="2" fill="#c0c0c0" />
<rect x="191" y="557" width="1" height="2" fill="#c0c0c0" />
<rect x="199" y="555" width="1" height="4" fill="#c0c0c0" />
<rect x="207" y="552" width="1" height="7" fill="#c0c0c0" />
<rect x="215" y="550" width="1" height="9" fill="#c0c0c0" />
<rect x="223" y="548" width="1" height="11" fill="#c0c0c0" />
<rect x="231" y="546" width="1" height="13" fill="#c0c0c0" />
<rect x="239" y="544" width="1" height="15" fill="#c0c0c0" />
<rect x="247" y="543" width="1" height="16" fill="#c0c0c0" />
<rect x="255" y="543" width="1" height="16" fill="#c0c0c0" />
<rect x="263" y="544" width="1" height="15" fill="#c0c0c0" />
<rect x="271" y="544" width="1" height="15" fill="#c0c0c0" />
<rect x="279" y="544" width="1" height="15" fill="#c0c0c0" />
<rect x="287" y="544" width="1" height="15" fill="#c0c0c0" />
<rect x="295" y="548" width="1" height="11" fill="#c0c0c0" />
<rect x="303" y="552" width="1" height="7" fill="#c0c0c0" />
<rect x="311" y="555" width="1" height="4" fill="#c0c0c0" />
<rect x="319" y="557" width="1" height="2" fill="#c0c0c0" />
<rect x="327" y="558" width="1" height="1" fill="#c0c0c0" />
<rect x="335" y="558" width="1" height="1" fill="#c0c0c0" />
<rect x="343" y="559" width="1" height="3" fill="#c0c0c0" />
<rect x="351" y="559" width="1" height="4" fill="#c0c0c0" />
<rect x="359" y="559" width="1" height="6" fill="#c0c0c0" />
<rect x="367" y="559" width="1" height="7" fill="#c0c0c0" />
<rect x="375" y="559" width="1" height="7" fill="#c0c0c0" />
<rect x="383" y="559" width="1" height="7" fill="#c0c0c0" />
<rect x="391" y="559" width="1" height="5" fill="#c0c0c0" />
<rect x="399" y="559" width="1" height="5" fill="#c0c0c0" />
<rect x="407" y="559" width="1" height="4" fill="#c0c0c0" />
<rect x="415" y="559" width="1" height="2" fill="#c0c0c0" />
<rect x="431" y="557" width="1" height="2" fill="#c0c0c0" />
<rect x="439" y="553" width="1" height="6" fill="#c0c0c0" />
<rect x="447" y="549" width="1" height="10" fill="#c0c0c0" />
<rect x="455" y="546" width="1" height="13" fill="#c0c0c0" />
<rect x="463" y="545" width="1" height="14" fill="#c0c0c0" />
<rect x="471" y="543" width="1" height="16" fill="#c0c0c0" />
<rect x="479" y="543" width="1" height="16" fill="#c0c0c0" />
<rect x="487" y="542" width="1" height="17" fill="#c0c0c0" />
<rect x="495" y="543" width="1" height="16" fill="#c0c0c0" />
<rect x="503" y="542" width="1" height="17" fill="#c0c0c0" />
<rect x="511" y="542" width="1" height="17" fill="#c0c0c0" />
<rect x="519" y="542" width="1" height="17" fill="#c0c0c0" />
<rect x="527" y="542" width="1" height="17" fill="#c0c0c0" />
<rect x="535" y="543" width="1" height="16" fill="#c0c0c0" />
<rect x="543" y="545" width="1" height="14" fill="#c0c0c0" />
<rect x="551" y="547" width="1" height="12" fill="#c0c0c0" />
<rect x="559" y="549" width="1" height="10" fill="#c0c0c0" />
<rect x="567" y="551" width="1" height="8" fill="#c0c0c0" />
<rect x="575" y="552" width="1" height="7" fill="#c0c0c0" />
<rect x="583" y="558" width="1" height="1" fill="#c0c0c0" />
<rect x="591" y="559" width="1" height="5" fill="#c0c0c0" />
<rect x="599" y="559" width="1" height="10" fill="#c0c0c0" />
<rect x="607" y="559" width="1" height="13" fill="#c0c0c0" />
<rect x="615" y="559" width="1" height="15" fill="#c0c0c0" />
<rect x="623" y="559" width="1" height="17" fill="#c0c0c0" />
<rect x="631" y="559" width="1" height="17" fill="#c0c0c0" />
<rect x="639" y="559" width="1" height="17" fill="#c0c0c0" />
<rect x="647" y="559" width="1" height="16" fill="#c0c0c0" />
<rect x="655" y="559" width="1" height="15" fill="#c0c0c0" />
<rect x="663" y="559" width="1" height="15" fill="#c0c0c0" />
<rect x="671" y="559" width="1" height="16" fill="#c0c0c0" />
<rect x="679" y="559" width="1" height="20" fill="#c0c0c0" />
<rect x="687" y="559" width="1" height="25" fill="#c0c0c0" />
<rect x="695" y="559" width="1" height="26" fill="#c0c0c0" />
<rect x="703" y="559" width="1" height="30" fill="#c0c0c0" />
<rect x="711" y="559" width="1" height="30" fill="#c0c0c0" />
<rect x="719" y="559" width="1" height="31" fill="#c0c0c0" />
<rect x="727" y="559" width="1" height="33" fill="#c0c0c0" />
<rect x="735" y="559" width="1" height="34" fill="#c0c0c0" />
<rect x="743" y="559" width="1" height="35" fill="#c0c0c0" />
<rect x="751" y="559" width="1" height="35" fill="#c0c0c0" />
<rect x="759" y="559" width="1" height="33" fill="#c0c0c0" />
<rect x="767" y="559" width="1" height="33" fill="#c0c0c0" />
<rect x="775" y="559" width="1" height="35" fill="#c0c0c0" />
<rect x="783" y="559" width="1" height="35" fill="#c0c0c0" />
<rect x="791" y="559" width="1" height="35" fill="#c0c0c0" />
<rect x="799" y="559" width="1" height="35" fill="#c0c0c0" />
<rect x="807" y="559" width="1" height="35" fill="#c0c0c0" />
<rect x="815" y="559" width="1" height="35" fill="#c0c0c0" />
<rect x="823" y="559" width="1" height="35" fill="#c0c0c0" />
<rect x="831" y="559" width="1" height="32" fill="#c0c0c0" />
<rect x="839" y="559" width="1" height="30" fill="#c0c0c0" />
<rect x="847" y="559" width="1" height="27" fill="#c0c0c0" />
<rect x="855" y="559" width="1" height="24" fill="#c0c0c0" />
<rect x="863" y="559" width="1" height="21" fill="#c0c0c0" />
<rect x="871" y="559" width="1" height="17" fill="#c0c0c0" />
<rect x="879" y="559" width="1" height="15" fill="#c0c0c0" />
<rect x="887" y="559" width="1" height="13" fill="#c0c0c0" />
<rect x="895" y="559" width="1" height="12" fill="#c0c0c0" />
<rect x="903" y="559" width="1" height="9" fill="#c0c0c0" />
<rect x="911" y="559" width="1" height="7" fill="#c0c0c0" />
<rect x="919" y="559" width="1" height="5" fill="#c0c0c0" />
<rect x="927" y="559" width="1" height="2" fill="#c0c0c0" />
<rect x="1031" y="557" width="1" height="2" fill="#c0c0c0" />
<rect x="1039" y="556" width="1" height="3" fill="#c0c0c0" />
<rect x="1047" y="556" width="1" height="3" fill="#c0c0c0" />
<rect x="1055" y="556" width="1" height="3" fill="#c0c0c0" />
<rect x="1063" y="555" width="1" height="4" fill="#c0c0c0" />
<rect x="1071" y="555" width="1" height="4" fill="#c0c0c0" />
<rect x="1079" y="554" width="1" height="5" fill="#c0c0c0" />
<rect x="1087" y="553" width="1" height="6" fill="#c0c0c0" />
<rect x="1095" y="552" width="1" height="7" fill="#c0c0c0" />
<rect x="1103" y="551" width="1" height="8" fill="#c0c0c0" />
<rect x="1111" y="552" width="1" height="7" fill="#c0c0c0" />
<rect x="1119" y="552" width="1" height="7" fill="#c0c0c0" />
<rect x="1127" y="553" width="1" height="6" fill="#c0c0c0" />
<rect x="1135" y="553" width="1" height="6" fill="#c0c0c0" />
<rect x="1143" y="554" width="1" height="5" fill="#c0c0c0" />
<rect x="1151" y="555" width="1" height="4" fill="#c0c0c0" />
<rect x="1159" y="556" width="1" height="3" fill="#c0c0c0" />
<rect x="1167" y="558" width="1" height="1" fill="#c0c0c0" />
<rect x="1183" y="559" width="1" height="1" fill="#c0c0c0" />
<rect x="1191" y="559" width="1" height="2" fill="#c0c0c0" />
<rect x="1199" y="559" width="1" height="1" fill="#c0c0c0" />
<rect x="1207" y="559" width="1" height="2" fill="#c0c0c0" />
<rect x="1215" y="559" width="1" height="3" fill="#c0c0c0" />
<rect x="1223" y="559" width="1" height="5" fill="#c0c0c0" />
<rect x="1231" y="559" width="1" height="6" fill="#c0c0c0" />
<rect x="1239" y="559" width="1" height="7" fill="#c0c0c0" />
<rect x="1247" y="559" width="1" height="8" fill="#c0c0c0" />
<rect x="1255" y="559" width="1" height="9" fill="#c0c0c0" />
<rect x="1263" y="559" width="1" height="11" fill="#c0c0c0" />
<rect x="1271" y="559" width="1" height="13" fill="#c0c0c0" />
<rect x="1279" y="559" width="1" height="14" fill="#c0c0c0" />
<rect x="1287" y="559" width="1" height="14" fill="#c0c0c0" />
<rect x="1295" y="559" width="1" height="13" fill="#c0c0c0" />
<rect x="1303" y="559" width="1" height="12" fill="#c0c0c0" />
<rect x="1311" y="559" width="1" height="10" fill="#c0c0c0" />
<rect x="1319" y="559" width="1" height="9" fill="#c0c0c0" />
<polyline points="7.0,561.9 23.0,560.7 46.0,559.8 64.6,559.6 69.0,560.7 92.0,561.3 110.7,561.9 117.6,563.4 138.0,563.0 150.0,562.2 167.0,560.7 173.0,559.3 184.0,558.4 196.0,557.5 201.7,556.8 221.9,554.6 242.1,550.5 262.3,546.1 282.4,544.1 292.5,543.5 306.6,544.1 314.7,546.1 332.9,549.1 340.0,553.8 350.0,555.6 364.2,558.8 380.3,561.8 400.5,564.2 420.7,564.2 440.9,561.2 461.0,556.2 481.2,549.7 501.4,545.1 517.5,542.7 555.9,542.7 572.0,544.5 586.1,547.5 602.3,553.8 622.4,561.6 642.6,569.3 654.7,573.3 672.9,575.3 683.0,575.7 688.0,577.4 704.2,579.0 720.3,582.8 732.5,585.4 742.5,588.9 760.7,591.1 780.9,593.1 793.0,594.5 829.3,594.5 841.4,593.5 855.5,591.1 871.6,588.0 881.7,584.4 901.9,578.0 920.0,573.3 932.2,569.3 948.3,565.3 962.4,563.2 982.6,560.6 992.7,559.6 1024.2,559.2 1040.3,558.2 1060.5,557.2 1080.7,555.2 1100.9,553.6 1121.0,552.5 1161.4,552.5 1171.5,553.6 1185.6,555.6 1201.7,557.2 1221.9,560.2 1242.1,562.6 1262.3,565.3 1282.4,568.7 1294.5,570.7 1318.7,571.3" fill="none" stroke="#ff0000" stroke-width="1" stroke-dasharray="3 3"/>
</g>
<text x="11.5" y="553" font-size="13" fill="#000" textLength="164" lengthAdjust="spacingAndGlyphs" >MACD(12,26,9)&#160;-2.576&#160;-3.294</text>
<rect x="1670" y="539" width="2" height="1" fill="#000" />
<rect x="1670" y="559" width="2" height="1" fill="#000" />
<rect x="1670" y="597" width="2" height="1" fill="#000" />
<text x="1673" y="551" font-size="13" fill="#000" textLength="32.5" lengthAdjust="spacingAndGlyphs" >5.359</text>
<text x="1673" y="564" font-size="13" fill="#000" textLength="24.5" lengthAdjust="spacingAndGlyphs" >0.00</text>
<text x="1673" y="595" font-size="13" fill="#000" textLength="42.5" lengthAdjust="spacingAndGlyphs" >-10.323</text>
<g clip-path="url(#c3)">
<path d="M7,639.5 H1669 M7,690.5 H1669" stroke="#c0c0c0" stroke-width="1" stroke-dasharray="3 3" fill="none"/>
<polyline points="7.5,663.4 15.5,663.4 23.5,662.0 31.5,665.1 39.5,669.1 47.5,665.1 55.5,675.0 63.5,677.3 71.5,676.4 79.5,675.2 87.5,668.3 95.5,668.6 103.5,674.3 111.5,666.5 119.5,663.4 127.5,662.2 135.5,655.3 143.5,656.5 151.5,654.4 159.5,658.6 167.5,657.2 175.5,657.2 183.5,664.6 191.5,662.2 199.5,644.7 207.5,641.8 215.5,640.4 223.5,640.4 231.5,635.8 239.5,632.3 247.5,647.3 255.5,646.1 263.5,649.6 271.5,648.4 279.5,646.5 287.5,651.8 295.5,677.4 303.5,672.4 311.5,674.7 319.5,673.3 327.5,669.5 335.5,680.4 343.5,672.1 351.5,676.0 359.5,677.6 367.5,674.7 375.5,674.3 383.5,665.5 391.5,663.4 399.5,660.3 407.5,662.2 415.5,657.4 423.5,653.0 431.5,644.7 439.5,641.3 447.5,639.6 455.5,638.0 463.5,643.2 471.5,640.4 479.5,646.1 487.5,646.6 495.5,651.3 503.5,645.3 511.5,647.3 519.5,644.4 527.5,647.9 535.5,656.2 543.5,658.2 551.5,662.2 559.5,666.4 567.5,663.4 575.5,668.3 583.5,692.0 591.5,694.5 599.5,692.3 607.5,687.3 615.5,688.5 623.5,688.5 631.5,680.7 639.5,676.4 647.5,677.3 655.5,675.5 663.5,681.6 671.5,686.2 679.5,698.3 687.5,699.4 695.5,697.7 703.5,696.3 711.5,690.6 719.5,698.3 727.5,689.4 735.5,693.3 743.5,693.3 751.5,692.3 759.5,685.4 767.5,686.4 775.5,698.3 783.5,686.4 791.5,686.4 799.5,685.4 807.5,688.5 815.5,688.5 823.5,688.5 831.5,675.5 839.5,676.4 847.5,676.0 855.5,672.1 863.5,666.4 871.5,665.3 879.5,667.2 887.5,668.6 895.5,666.4 903.5,662.0 911.5,660.3 919.5,657.0 927.5,653.4 935.5,659.4 943.5,665.1 951.5,668.6 959.5,664.3 967.5,660.3 975.5,665.5 983.5,659.6 991.5,666.0 999.5,670.3 1007.5,677.3 1015.5,656.5 1023.5,657.4 1031.5,656.5 1039.5,659.6 1047.5,661.7 1055.5,664.8 1063.5,655.3 1071.5,655.3 1079.5,653.4 1087.5,653.4 1095.5,648.2 1103.5,657.4 1111.5,665.7 1119.5,662.0 1127.5,657.4 1135.5,663.4 1143.5,663.4 1151.5,666.4 1159.5,667.4 1167.5,675.5 1175.5,674.3 1183.5,674.3 1191.5,669.5 1199.5,660.3 1207.5,672.4 1215.5,675.5 1223.5,679.5 1231.5,676.4 1239.5,680.4 1247.5,683.6 1255.5,681.2 1263.5,685.4 1271.5,687.6 1279.5,685.0 1287.5,682.4 1295.5,675.0 1303.5,673.3 1311.5,666.4 1319.5,667.4" fill="none" stroke="#1e90ff" stroke-width="1" />
</g>
<text x="11.5" y="616" font-size="13" fill="#000" textLength="91" lengthAdjust="spacingAndGlyphs" >RSI(14)&#160;48.2258</text>
<rect x="1670" y="602" width="2" height="1" fill="#000" />
<rect x="1670" y="727" width="2" height="1" fill="#000" />
<text x="1673.3" y="614" font-size="13" fill="#000" textLength="20.6" lengthAdjust="spacingAndGlyphs" >100</text>
<text x="1673" y="644.5" font-size="13" fill="#000" textLength="13.5" lengthAdjust="spacingAndGlyphs" >70</text>
<text x="1673" y="695.5" font-size="13" fill="#000" textLength="13.5" lengthAdjust="spacingAndGlyphs" >30</text>
<text x="1673" y="725" font-size="13" fill="#000" textLength="6.5" lengthAdjust="spacingAndGlyphs" >0</text>
<rect x="7" y="729" width="1" height="3" fill="#000" />
<text x="6" y="744" font-size="12.85" fill="#000" >18&#160;Oct&#160;2019</text>
<rect x="103" y="729" width="1" height="3" fill="#000" />
<text x="102" y="744" font-size="12.85" fill="#000" >22&#160;Oct&#160;12:00</text>
<rect x="199" y="729" width="1" height="3" fill="#000" />
<text x="198" y="744" font-size="12.85" fill="#000" >24&#160;Oct&#160;12:00</text>
<rect x="295" y="729" width="1" height="3" fill="#000" />
<text x="294" y="744" font-size="12.85" fill="#000" >28&#160;Oct&#160;12:00</text>
<rect x="391" y="729" width="1" height="3" fill="#000" />
<text x="390" y="744" font-size="12.85" fill="#000" >30&#160;Oct&#160;12:00</text>
<rect x="487" y="729" width="1" height="3" fill="#000" />
<text x="486" y="744" font-size="12.85" fill="#000" textLength="67.6" lengthAdjust="spacingAndGlyphs" >1&#160;Nov&#160;12:00</text>
<rect x="583" y="729" width="1" height="3" fill="#000" />
<text x="582" y="744" font-size="12.85" fill="#000" textLength="67.6" lengthAdjust="spacingAndGlyphs" >5&#160;Nov&#160;12:00</text>
<rect x="679" y="729" width="1" height="3" fill="#000" />
<text x="678" y="744" font-size="12.85" fill="#000" textLength="67.6" lengthAdjust="spacingAndGlyphs" >7&#160;Nov&#160;12:00</text>
<rect x="775" y="729" width="1" height="3" fill="#000" />
<text x="774" y="744" font-size="12.85" fill="#000" textLength="74.6" lengthAdjust="spacingAndGlyphs" >11&#160;Nov&#160;12:00</text>
<rect x="871" y="729" width="1" height="3" fill="#000" />
<text x="870" y="744" font-size="12.85" fill="#000" textLength="74.6" lengthAdjust="spacingAndGlyphs" >13&#160;Nov&#160;12:00</text>
<rect x="967" y="729" width="1" height="3" fill="#000" />
<text x="966" y="744" font-size="12.85" fill="#000" textLength="74.6" lengthAdjust="spacingAndGlyphs" >15&#160;Nov&#160;12:00</text>
<rect x="1063" y="729" width="1" height="3" fill="#000" />
<text x="1062" y="744" font-size="12.85" fill="#000" textLength="74.6" lengthAdjust="spacingAndGlyphs" >19&#160;Nov&#160;12:00</text>
<rect x="1159" y="729" width="1" height="3" fill="#000" />
<text x="1158" y="744" font-size="12.85" fill="#000" textLength="74.6" lengthAdjust="spacingAndGlyphs" >21&#160;Nov&#160;12:00</text>
<rect x="1255" y="729" width="1" height="3" fill="#000" />
<text x="1254" y="744" font-size="12.85" fill="#000" textLength="74.6" lengthAdjust="spacingAndGlyphs" >25&#160;Nov&#160;12:00</text>
</svg>
</body></html>
